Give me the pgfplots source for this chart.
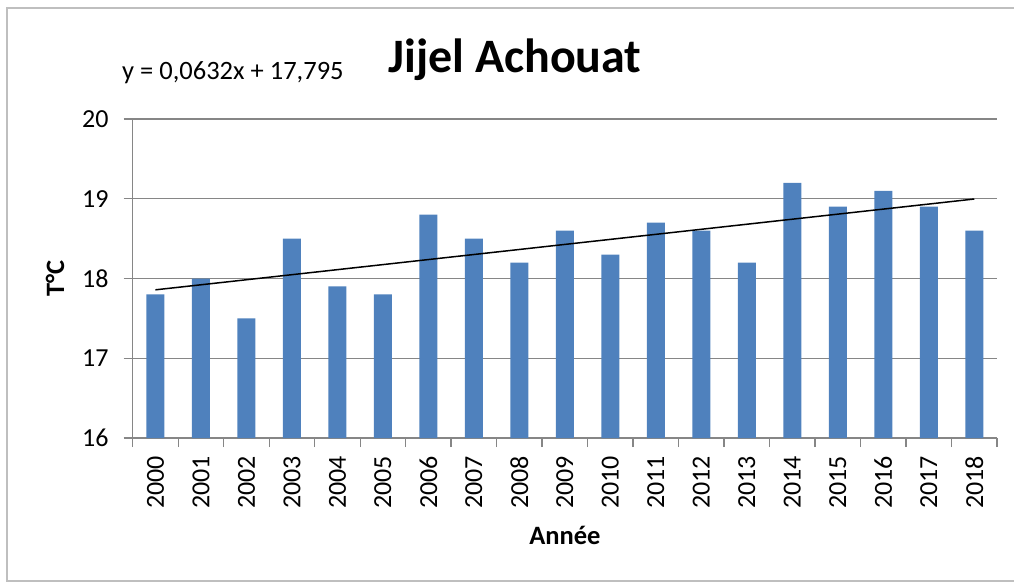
\documentclass[border=0pt]{standalone}
\usepackage{pgfplots}
\pgfplotsset{compat=1.18}
\usepackage{fontspec}
\setmainfont{Carlito}
\definecolor{barblue}{HTML}{4F81BD}
\definecolor{gridgray}{HTML}{868686}
\begin{document}
\begin{tikzpicture}[x=1pt,y=1pt]
\useasboundingbox (0,0) rectangle (1014,-583);
\draw[color=black!25, line width=1.5pt] (7,-8) rectangle (1030,-581);
\begin{axis}[
  at={(132.7pt,-438pt)}, anchor=south west,
  scale only axis, width=864.3pt, height=319pt,
  xmin=-0.5, xmax=18.5, ymin=16, ymax=20,
  ybar, bar width=18pt,
  axis x line*=bottom, axis y line*=left,
  axis line style={gridgray, line width=1.3pt},
  xtick={-0.5,0.5,...,18.5},
  xticklabels={},
  extra x ticks={0,...,18},
  extra x tick labels={2000,2001,2002,2003,2004,2005,2006,2007,2008,2009,2010,2011,2012,2013,2014,2015,2016,2017,2018},
  extra x tick style={tick style={draw=none}, xticklabel style={rotate=90, anchor=east, inner sep=0pt, font=\fontsize{26}{26}\selectfont, xshift=-9pt}},
  ytick={16,17,18,19,20},
  tick style={gridgray, line width=1.3pt},
  major tick length=9pt,
  tick align=outside,
  ymajorgrids, grid style={gridgray, line width=1.3pt},
  yticklabel style={anchor=east, inner sep=0pt, xshift=-15pt, font=\fontsize{26}{26}\selectfont},
  /pgf/number format/assume math mode=true,
  xlabel={\textbf{Année}},
  ylabel={\textbf{T°C}},
  xlabel style={at={(axis description cs:0.5,-0.304)}, anchor=center, font=\fontsize{26.5}{26.5}\selectfont},
  ylabel style={at={(axis description cs:-0.0899,0.5)}, anchor=center, rotate=0, font=\fontsize{26.5}{26.5}\selectfont},
  clip=false,
]
\addplot[fill=barblue, draw=none] coordinates {
(0,17.8) (1,18.0) (2,17.5) (3,18.5) (4,17.9) (5,17.8) (6,18.8) (7,18.5) (8,18.2) (9,18.6)
(10,18.3) (11,18.7) (12,18.6) (13,18.2) (14,19.2) (15,18.9) (16,19.1) (17,18.9) (18,18.6)};
\addplot[sharp plot, black, line width=1.5pt, bar shift=0pt, forget plot] coordinates {(0,17.858) (18,18.9968)};
\end{axis}
\node[anchor=base, font=\fontsize{48}{48}\selectfont\bfseries] at (515,-73) {Jijel Achouat};
\node[anchor=base west, inner sep=0pt, font=\fontsize{26.5}{26.5}\selectfont] at (122,-80) {y = 0,0632x + 17,795};
\end{tikzpicture}
\end{document}
